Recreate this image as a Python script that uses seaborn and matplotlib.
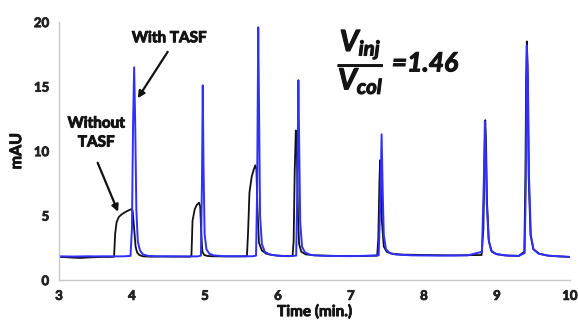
import matplotlib
matplotlib.use("Agg")
import matplotlib.pyplot as plt
import matplotlib.patheffects as pe
import seaborn as sns
import pandas as pd

# ---- data ----
t_without = [3.00, 3.10, 3.20, 3.30, 3.40, 3.50, 3.60, 3.70, 3.755, 3.77, 3.79, 3.82, 3.86, 3.90, 3.95, 3.99, 4.01,
             4.03, 4.05, 4.07, 4.10, 4.15, 4.25, 4.40, 4.60, 4.80, 4.815, 4.83, 4.86, 4.89, 4.92, 4.935, 4.95,
             4.965, 4.99, 5.03, 5.10, 5.25, 5.40, 5.575, 5.59, 5.61, 5.64, 5.67, 5.69, 5.705, 5.72, 5.74, 5.78,
             5.84, 5.92, 6.05, 6.20, 6.215, 6.23, 6.245, 6.26, 6.275, 6.29, 6.32, 6.38, 6.50, 6.80, 7.10, 7.36,
             7.375, 7.39, 7.40, 7.41, 7.425, 7.45, 7.49, 7.56, 7.70, 8.00, 8.40, 8.79, 8.815, 8.83, 8.84, 8.85,
             8.865, 8.89, 8.93, 9.00, 9.15, 9.30, 9.375, 9.39, 9.40, 9.41, 9.42, 9.435, 9.46, 9.50, 9.58, 9.70,
             9.85, 10.00]
v_without = [1.80, 1.78, 1.74, 1.72, 1.76, 1.78, 1.80, 1.80, 1.82, 3.60, 4.50, 4.90, 5.10, 5.25, 5.40, 5.50, 5.35,
             4.00, 2.60, 2.15, 1.95, 1.85, 1.82, 1.83, 1.82, 1.82, 1.90, 4.60, 5.50, 5.85, 6.00, 5.70, 3.60,
             2.20, 1.95, 1.88, 1.85, 1.84, 1.84, 1.85, 3.60, 6.80, 8.00, 8.60, 8.90, 8.60, 5.50, 2.90, 2.30,
             2.05, 1.95, 1.88, 1.86, 3.00, 8.50, 11.60, 9.80, 5.00, 2.80, 2.20, 2.00, 1.92, 1.88, 1.86, 1.90,
             3.20, 7.50, 9.30, 8.20, 4.50, 2.60, 2.20, 2.05, 1.98, 1.95, 1.92, 1.95, 4.00, 9.50, 12.40, 11.00,
             6.00, 3.00, 2.20, 2.00, 1.90, 1.88, 2.20, 8.00, 15.50, 18.50, 16.50, 8.00, 3.50, 2.40, 2.05, 1.90,
             1.84, 1.80]

t_with = [3.00, 3.10, 3.20, 3.30, 3.40, 3.50, 3.60, 3.70, 3.80, 3.90, 3.98, 4.00, 4.015, 4.03, 4.045, 4.06,
          4.08, 4.11, 4.15, 4.22, 4.35, 4.55, 4.75, 4.90, 4.945, 4.96, 4.97, 4.98, 4.995, 5.02, 5.06, 5.12,
          5.25, 5.45, 5.65, 5.70, 5.715, 5.73, 5.74, 5.755, 5.78, 5.82, 5.88, 5.98, 6.15, 6.25, 6.265, 6.28,
          6.29, 6.305, 6.33, 6.37, 6.45, 6.65, 7.00, 7.38, 7.405, 7.42, 7.435, 7.45, 7.48, 7.53, 7.62, 7.85,
          8.20, 8.60, 8.795, 8.82, 8.835, 8.845, 8.86, 8.885, 8.92, 8.98, 9.10, 9.30, 9.38, 9.395, 9.41, 9.425,
          9.44, 9.465, 9.50, 9.57, 9.70, 9.85, 10.00]
v_with = [1.85, 1.84, 1.83, 1.84, 1.85, 1.84, 1.85, 1.85, 1.84, 1.85, 1.88, 4.00, 12.00, 16.50, 12.00, 5.50,
          3.00, 2.30, 2.00, 1.88, 1.85, 1.85, 1.84, 1.84, 1.90, 8.00, 15.10, 9.00, 3.60, 2.40, 2.05, 1.92,
          1.86, 1.85, 1.85, 1.90, 7.00, 19.60, 14.00, 5.00, 2.80, 2.20, 2.00, 1.90, 1.86, 1.90, 7.00, 15.50,
          11.00, 4.50, 2.60, 2.15, 1.95, 1.88, 1.86, 1.92, 6.50, 11.30, 7.00, 3.50, 2.40, 2.10, 1.98, 1.92,
          1.90, 1.92, 2.20, 7.50, 12.30, 10.50, 6.00, 3.20, 2.30, 2.05, 1.92, 1.88, 2.10, 7.00, 18.20, 15.50,
          8.00, 3.50, 2.40, 2.05, 1.90, 1.85, 1.80]

x_ticks = [3, 4, 5, 6, 7, 8, 9, 10]
y_ticks = [0, 5, 10, 15, 20]

sns.set_theme(style="white")
plt.rcParams['font.family'] = ['Lato', 'DejaVu Sans']
plt.rcParams['mathtext.fontset'] = 'custom'
plt.rcParams['mathtext.it'] = 'Lato:italic:bold'
plt.rcParams['mathtext.rm'] = 'Lato:bold'
plt.rcParams['mathtext.bf'] = 'Lato:bold'

TXT = "#141414"
def heavy(w=0.7, c=TXT):
    return [pe.withStroke(linewidth=w, foreground=c)]

df_without = pd.DataFrame({"time": t_without, "mAU": v_without})
df_with = pd.DataFrame({"time": t_with, "mAU": v_with})

fig = plt.figure(figsize=(5.78, 3.25), dpi=100)
ax = fig.add_axes([0.102, 0.138, 0.884, 0.794])

sns.lineplot(data=df_without, x="time", y="mAU", ax=ax, color="#111111", linewidth=1.3, sort=False)
sns.lineplot(data=df_with, x="time", y="mAU", ax=ax, color="#2f2fff", linewidth=1.4, sort=False)

ax.set_xlim(3, 10)
ax.set_ylim(0, 20)
ax.set_xticks(x_ticks)
ax.set_yticks(y_ticks)
ax.set_xticklabels([str(v) for v in x_ticks], fontweight="bold", fontsize=9.5, color="#222222")
ax.set_yticklabels([str(v) for v in y_ticks], fontweight="bold", fontsize=9.5, color="#222222")
for lab in ax.get_xticklabels() + ax.get_yticklabels():
    lab.set_path_effects(heavy(0.6, "#222222"))
ax.tick_params(axis="both", direction="out", length=4, width=0.8, color="#c8c8c8", pad=3)
ax.set_xlabel("Time (min.)", fontweight="bold", fontsize=11, color=TXT, labelpad=2,
              path_effects=heavy(0.6))
ax.set_ylabel("mAU", fontweight="bold", fontsize=11.5, color=TXT, labelpad=7,
              path_effects=heavy(0.6))

for s in ["top", "right"]:
    ax.spines[s].set_visible(False)
for s in ["left", "bottom"]:
    ax.spines[s].set_color("#c8c8c8")
    ax.spines[s].set_linewidth(1.0)

# annotations
arrow_kw = dict(arrowstyle="-|>", color="#111111", lw=1.6, mutation_scale=10, shrinkA=0, shrinkB=0)
ax.text(4.51, 18.75, "With TASF", ha="center", va="center", fontsize=11, fontweight="bold",
        color=TXT, path_effects=heavy(0.7))
ax.annotate("", xy=(4.08, 14.1), xytext=(4.49, 17.7), arrowprops=arrow_kw)

ax.text(3.51, 11.4, "Without\nTASF", ha="center", va="center", fontsize=11, fontweight="bold",
        color=TXT, linespacing=1.45, path_effects=heavy(0.7))
ax.annotate("", xy=(3.81, 5.3), xytext=(3.53, 9.1), arrowprops=arrow_kw)

ax.text(7.14, 16.9, r"$\dfrac{V_{inj}}{V_{col}}$", ha="center", va="center", fontsize=21, color=TXT,
        path_effects=heavy(0.8))
ax.text(7.56, 16.8, "=1.46", ha="left", va="center", fontsize=19, fontweight="bold",
        fontstyle="italic", color=TXT, path_effects=heavy(0.8))

fig.savefig("out.png", dpi=100)
